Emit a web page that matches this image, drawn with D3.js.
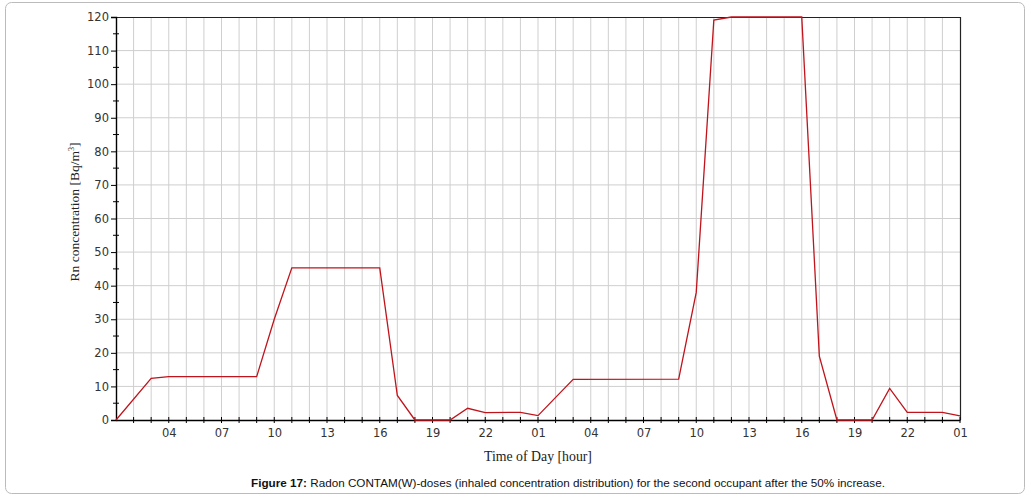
<!DOCTYPE html>
<meta charset='utf-8'>
<title>Radon CONTAM(W)-doses</title>
<style>
body {
  margin: 0;
  background-color: #fff;
}
</style>
<svg width="1031" height="503"></svg>
<script src="https://d3js.org/d3.v7.min.js"></script>
<script>

// hours since 01:00 on day one, and the Rn concentration read at each
var hours  = [0, 2, 3, 8, 9, 10, 15, 16, 17, 19, 20, 21, 23, 24, 26, 32, 33, 34, 35, 39, 40, 41, 43, 44, 45, 47, 48];
var values = [0, 12.4, 12.9, 12.9, 30, 45.3, 45.3, 7.3, 0, 0, 3.5, 2.2, 2.3, 1.3, 12.1, 12.2, 38, 119.1, 120, 120, 19, 0, 0, 9.4, 2.3, 2.3, 1.2];

var xTickHours  = [3, 6, 9, 12, 15, 18, 21, 24, 27, 30, 33, 36, 39, 42, 45, 48];
var xTickLabels = ["04", "07", "10", "13", "16", "19", "22", "01", "04", "07", "10", "13", "16", "19", "22", "01"];
var yTicks = [0, 10, 20, 30, 40, 50, 60, 70, 80, 90, 100, 110, 120];

var svg = d3.select("svg");

var plot = {left: 116, right: 960, top: 17, bottom: 420};

var x = d3.scaleLinear().domain([0, 48]).range([plot.left, plot.right]);
var y = d3.scaleLinear().domain([0, 120]).range([plot.bottom, plot.top]);

// outer frame
svg.append("rect")
    .attr("x", 5.5).attr("y", 2.5)
    .attr("width", 1019).attr("height", 491)
    .attr("rx", 6)
    .attr("fill", "#fff")
    .attr("stroke", "#bbb");

// grid
svg.append("g").selectAll("line")
    .data(d3.range(1, 48))
  .enter().append("line")
    .attr("x1", function(d) { return x(d); })
    .attr("x2", function(d) { return x(d); })
    .attr("y1", plot.top).attr("y2", plot.bottom)
    .attr("stroke", "#cfcfcf");

svg.append("g").selectAll("line")
    .data(yTicks.slice(1, -1))
  .enter().append("line")
    .attr("x1", plot.left).attr("x2", plot.right)
    .attr("y1", function(d) { return y(d); })
    .attr("y2", function(d) { return y(d); })
    .attr("stroke", "#cfcfcf");

// top and right frame of the plot
svg.append("path")
    .attr("d", "M" + plot.left + "," + (plot.top + 0.5) + "H" + (plot.right + 0.5) + "V" + plot.bottom)
    .attr("fill", "none")
    .attr("stroke", "#222")
    .attr("stroke-width", 1.2);

// x axis
var xAxis = d3.axisBottom(x)
    .tickValues(xTickHours)
    .tickSize(0)
    .tickPadding(9)
    .tickFormat(function(d, i) { return xTickLabels[i]; });

var gx = svg.append("g")
    .attr("transform", "translate(0," + plot.bottom + ")")
    .call(xAxis);
gx.select(".domain").attr("stroke", "#000").attr("stroke-width", 1.4);
gx.selectAll("text")
    .attr("font-family", "DejaVu Sans")
    .attr("font-size", 11.5)
    .attr("fill", "#333");

gx.selectAll(".hour")
    .data(d3.range(1, 49))
  .enter().append("line")
    .attr("x1", function(d) { return x(d); })
    .attr("x2", function(d) { return x(d); })
    .attr("y1", -3).attr("y2", 3)
    .attr("stroke", "#000");

// y axis
var yAxis = d3.axisLeft(y)
    .tickValues(yTicks)
    .tickSize(5)
    .tickPadding(2);

var gy = svg.append("g")
    .attr("transform", "translate(" + plot.left + ",0)")
    .call(yAxis);
gy.select(".domain").attr("stroke", "#000").attr("stroke-width", 1.4);
gy.selectAll(".tick line").attr("stroke", "#000");
gy.selectAll("text")
    .attr("font-family", "DejaVu Sans")
    .attr("font-size", 11.5)
    .attr("fill", "#333");

gy.selectAll(".minor")
    .data(d3.range(5, 120, 10))
  .enter().append("line")
    .attr("x1", -3).attr("x2", 3)
    .attr("y1", function(d) { return y(d); })
    .attr("y2", function(d) { return y(d); })
    .attr("stroke", "#000");

// the series
var line = d3.line()
    .x(function(d, i) { return x(hours[i]); })
    .y(function(d) { return y(d); });

svg.append("path")
    .datum(values)
    .attr("d", line)
    .attr("fill", "none")
    .attr("stroke", "#c0141c")
    .attr("stroke-width", 1.3);

// axis titles
svg.append("text")
    .attr("x", 538).attr("y", 461)
    .attr("text-anchor", "middle")
    .attr("font-family", "Liberation Serif")
    .attr("font-size", 13.8)
    .attr("fill", "#222")
    .text("Time of Day [hour]");

var yTitle = svg.append("text")
    .attr("transform", "translate(79,212) rotate(-90)")
    .attr("text-anchor", "middle")
    .attr("font-family", "Liberation Serif")
    .attr("font-size", 13.5)
    .attr("fill", "#222");
yTitle.append("tspan").text("Rn concentration [Bq/m");
yTitle.append("tspan").attr("font-size", 8).attr("dy", -5).text("3");
yTitle.append("tspan").attr("dy", 5).text("]");

// caption
var cap = svg.append("text")
    .attr("x", 568).attr("y", 487)
    .attr("text-anchor", "middle")
    .attr("font-family", "Liberation Sans")
    .attr("font-size", 11.7)
    .attr("fill", "#111");
cap.append("tspan").attr("font-weight", "bold").text("Figure 17:");
cap.append("tspan").text(" Radon CONTAM(W)-doses (inhaled concentration distribution) for the second occupant after the 50% increase.");

</script>
